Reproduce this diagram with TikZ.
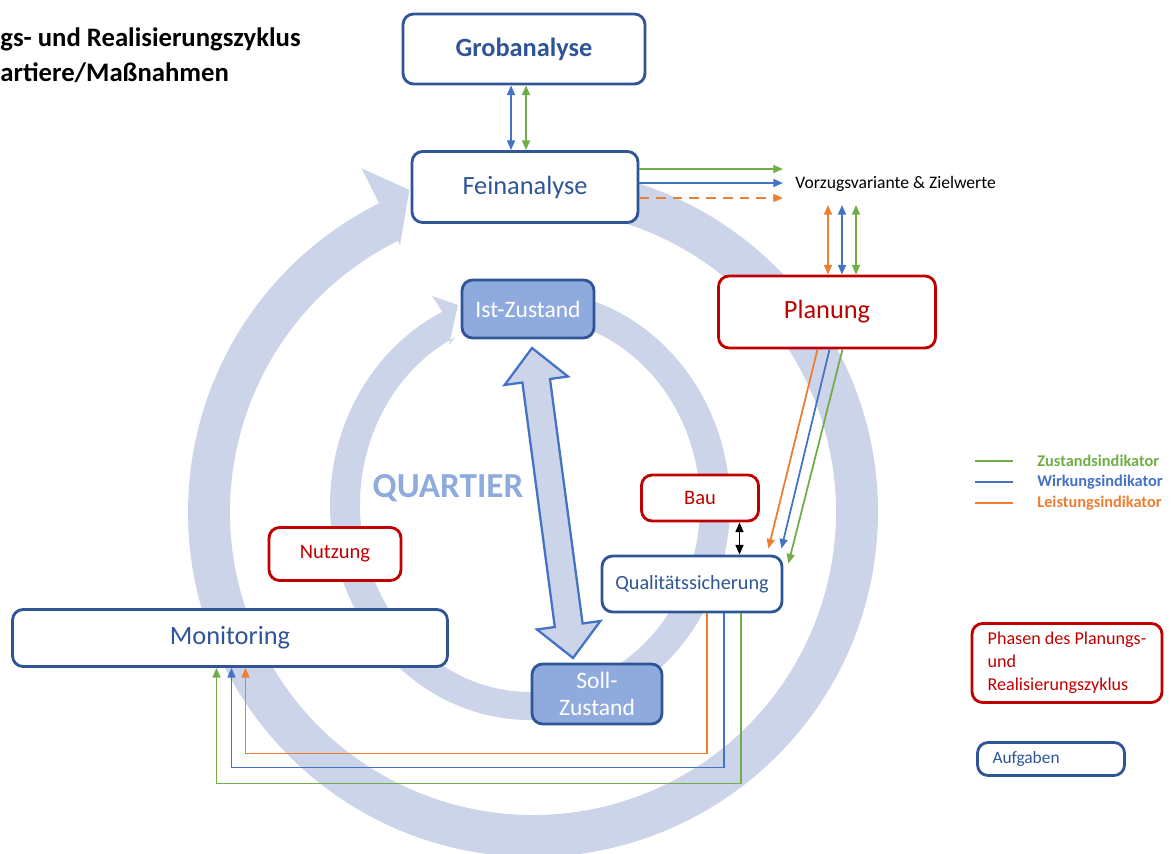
\documentclass[tikz,border=0pt]{standalone}
\usepackage{fontspec}
\setmainfont{Carlito}
\usetikzlibrary{arrows.meta}
\definecolor{dblue}{HTML}{2F5597}
\definecolor{dred}{HTML}{C00000}
\definecolor{lblue}{HTML}{4472C4}
\definecolor{lgreen}{HTML}{70AD47}
\definecolor{lorange}{HTML}{ED7D31}
\definecolor{ringc}{RGB}{204,212,234}
\definecolor{zfill}{HTML}{8FAADC}

\begin{document}
\begin{tikzpicture}[x=.02cm, y=-.02cm,
		task/.style={draw=dblue, line width=1.6pt, rounded corners=6pt, fill=white, text=dblue, inner sep=0pt, font=\fontsize{15}{18}\selectfont},
		phase/.style={draw=dred, line width=1.6pt, rounded corners=6pt, fill=white, text=dred, inner sep=0pt, font=\fontsize{11.7}{14}\selectfont},
		state/.style={draw=dblue, line width=1.6pt, rounded corners=6pt, fill=zfill, text=white, inner sep=0pt, align=center, font=\fontsize{13.4}{15.4}\selectfont},
		ind/.style={line width=1pt, -{Triangle[length=5.5pt,width=4.5pt]}},
		ind2/.style={line width=1pt, {Triangle[length=5.5pt,width=4.5pt]}-{Triangle[length=5.5pt,width=4.5pt]}},
		dsh/.style={dash pattern=on 5.5pt off 4pt}]
				\useasboundingbox (0,0) rectangle (1173,854);
				\clip (0,0) rectangle (1173,854);
				\begin{scope}[shift={(533,512)}]
					\fill[ringc] (-85:345) arc[start angle=-85, end angle=243.5, radius=345] -- (243.5:384) -- (249:345) -- (243.5:298) -- (243.5:303) arc[start angle=243.5, end angle=-85, radius=303] -- cycle;
				\end{scope}
				\begin{scope}[shift={(530,505)}]
					\fill[ringc] (-85:200 and 215) arc[start angle=-85, end angle=244, x radius=200, y radius=215] -- (-98,-209) -- (-72,-200) -- (-81,-160) -- (244:170 and 187) arc[start angle=244, end angle=-85, x radius=170, y radius=187] -- cycle;
				\end{scope}
				\draw[draw=lblue, fill=ringc, line width=1.3pt] (532,348) -- (568,376.5) -- (550,379) -- (582.6,623.5) -- (600.4,621) -- (573,658) -- (537,629.5) -- (554.8,627) -- (522.4,382.5) -- (504.6,385) -- cycle;
				\node[font=\bfseries\fontsize{20}{24}\selectfont, text=zfill] (quart) at (448,488) {QUARTIER};

				\node[task, font=\bfseries\fontsize{15}{18}\selectfont, minimum width=4.84cm, minimum height=1.4cm] (grob) at (524,49) {Grobanalyse};
				\node[task, minimum width=4.52cm, minimum height=1.42cm] (fein) at (525,187) {Feinanalyse};
				\node[phase, font=\fontsize{15}{18}\selectfont, minimum width=4.34cm, minimum height=1.44cm] (plan) at (827,312) {Planung};
				\node[state, minimum width=2.64cm, minimum height=1.16cm] (ist) at (528,309) {Ist-Zustand};
				\node[state, minimum width=2.6cm, minimum height=1.2cm] (soll) at (597,694) {Soll-\\Zustand};
				\node[phase, minimum width=2.34cm, minimum height=.92cm] (bau) at (700,498) {Bau};
				\node[phase, minimum width=2.64cm, minimum height=1.06cm] (nutz) at (335,554) {Nutzung};
				\node[task, font=\fontsize{11.5}{14}\selectfont, minimum width=3.6cm, minimum height=1.12cm] (qs) at (692,584) {Qualitätssicherung};
				\node[task, minimum width=8.7cm, minimum height=1.14cm] (mon) at (230,638) {Monitoring};
				\node[anchor=west, inner xsep=.24cm, inner ysep=.26cm, font=\fontsize{10}{12}\selectfont] (vorz) at (783,184) {Vorzugsvariante \& Zielwerte};

				\foreach \c/\s [count=\i] in {lblue/-.26, lgreen/.04} {
					\coordinate (gf\i) at ([xshift=\s cm]grob.south);
					\draw[ind2, \c] (gf\i) -- (gf\i |- fein.north);
				}
				\foreach \c/\s/\d [count=\i] in {lgreen/.36/solid, lblue/.08/solid, lorange/-.22/dsh} {
					\coordinate (fv\i) at ([yshift=\s cm]fein.east);
					\draw[ind, \c, \d] (fv\i) -- (fv\i -| vorz.west);
				}
				\foreach \c/\s [count=\i] in {lorange/.02, lblue/.3, lgreen/.58} {
					\coordinate (pv\i) at ([xshift=\s cm]plan.north);
					\draw[ind2, \c] (pv\i) -- (pv\i |- vorz.south);
				}
				\draw[ind, lorange] ([xshift=-.19cm]plan.south) -- ([xshift=-.3cm, yshift=.12cm]qs.north east);
				\draw[ind, lblue] ([xshift=.05cm]plan.south) -- ([xshift=-.04cm, yshift=.12cm]qs.north east);
				\draw[ind, lgreen] ([xshift=.31cm]plan.south) -- ([xshift=.1cm, yshift=-.18cm]qs.north east);
				\coordinate (bq) at ([xshift=.79cm]bau.south);
				\draw[ind2, black] (bq) -- (bq |- qs.north);
				\foreach \c/\s/\d/\m in {lorange/.3/140/.31, lblue/.64/154/.03, lgreen/.98/170/-.27} {
					\draw[ind, \c] ([xshift=\s cm]qs.south) -- ++(0,\d) -| ([xshift=\m cm]mon.south);
				}

				\foreach \c/\t/\y in {lgreen/Zustandsindikator/461, lblue/Wirkungsindikator/482, lorange/Leistungsindikator/503} {
					\draw[\c, line width=1.2pt] (975,\y) -- (1013,\y);
					\node[anchor=west, inner sep=0pt, text=\c, font=\bfseries\fontsize{9.3}{11}\selectfont] (l\t) at (1037,\y) {\t};
				}
				\node[phase, font=\fontsize{10.3}{13}\selectfont, align=left, minimum width=3.8cm, minimum height=1.58cm] (lphase) at (1067,663) {Phasen des Planungs-\\und\\Realisierungszyklus};
				\node[task, font=\fontsize{9.9}{12}\selectfont, align=left, text width=2.34cm, inner xsep=.3cm, minimum height=.66cm] (laufg) at (1051,759) {Aufgaben};
				\node[anchor=north west, align=left, inner sep=0pt, font=\bfseries\fontsize{15.2}{19.9}\selectfont] (title) at (0,27) {gs- und Realisierungszyklus\\artiere/Maßnahmen};
\end{tikzpicture}
\end{document}
